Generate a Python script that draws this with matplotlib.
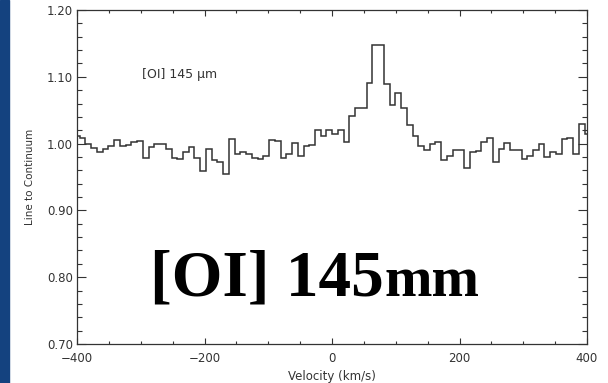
import numpy as np
import matplotlib
matplotlib.use("Agg")
import matplotlib.pyplot as plt
from matplotlib.patches import Rectangle
from matplotlib.ticker import MultipleLocator, FormatStrFormatter

# channel grid (km/s): first edge and channel width
v_start = -404.7
dv = 9.0

# line-to-continuum ratio per channel
flux = [
    1.012, 1.009, 0.999, 0.994, 0.987, 0.992, 0.996, 1.005, 0.997, 0.998,
    1.002, 1.004, 0.979, 0.995, 1.000, 0.999, 0.992, 0.978, 0.977, 0.987,
    0.995, 0.979, 0.959, 0.992, 0.976, 0.973, 0.954, 1.007, 0.985, 0.987,
    0.985, 0.979, 0.977, 0.981, 1.006, 1.004, 0.979, 0.985, 1.001, 0.981,
    0.996, 0.998, 1.020, 1.012, 1.021, 1.015, 1.021, 1.002, 1.041, 1.054,
    1.054, 1.091, 1.147, 1.147, 1.089, 1.058, 1.076, 1.053, 1.028, 1.012,
    0.997, 0.990, 1.000, 1.002, 0.976, 0.982, 0.991, 0.990, 0.963, 0.987,
    0.989, 1.003, 1.008, 0.972, 0.992, 1.001, 0.991, 0.990, 0.977, 0.981,
    0.991, 1.000, 0.980, 0.987, 0.985, 1.007, 1.008, 0.984, 1.029, 1.015,
]
edges = v_start + dv * np.arange(len(flux) + 1)

gray = "#333333"

fig = plt.figure(figsize=(6.08, 3.83), dpi=100)
fig.patches.append(Rectangle((0, 0), 9 / 608, 1, transform=fig.transFigure,
                             color="#14427f", zorder=0))

ax = fig.add_axes([77 / 608, 1 - 344 / 383, 510 / 608, 334 / 383])
ax.stairs(flux, edges, color=gray, lw=1.1)

ax.set_xlim(-400, 400)
ax.set_ylim(0.70, 1.20)
ax.xaxis.set_major_locator(MultipleLocator(200))
ax.xaxis.set_minor_locator(MultipleLocator(50))
ax.yaxis.set_major_locator(MultipleLocator(0.1))
ax.yaxis.set_minor_locator(MultipleLocator(0.02))
ax.yaxis.set_major_formatter(FormatStrFormatter("%.2f"))

ax.tick_params(which="both", direction="in", top=True, right=True,
               color=gray, labelcolor=gray, labelsize=8.5, width=0.8)
ax.tick_params(axis="x", which="major", length=4.5, pad=6)
ax.tick_params(axis="x", which="minor", length=2.2)
ax.tick_params(axis="y", which="major", length=6.5, pad=3)
ax.tick_params(axis="y", which="minor", length=3.6)
for s in ax.spines.values():
    s.set_color(gray)
    s.set_linewidth(0.9)

ax.set_xlabel("Velocity (km/s)", fontsize=8.5, color=gray)
ax.set_ylabel("Line to Continuum", fontsize=7.5, color=gray)
ax.xaxis.set_label_coords(0.5, -0.077)
ax.yaxis.set_label_coords(-0.083, 0.5)

ax.text(-298, 1.104, "[OI] 145 \u03bcm", fontsize=9, color=gray, va="center")

# large slide caption
ax.text(-285, 0.772, "[OI] 145", family="Liberation Serif", weight="bold",
        fontsize=47, color="black", va="baseline")
ax.text(82, 0.772, "mm", family="Liberation Serif", weight="bold",
        fontsize=41, color="black", va="baseline")

fig.savefig("out.png", dpi=100)
